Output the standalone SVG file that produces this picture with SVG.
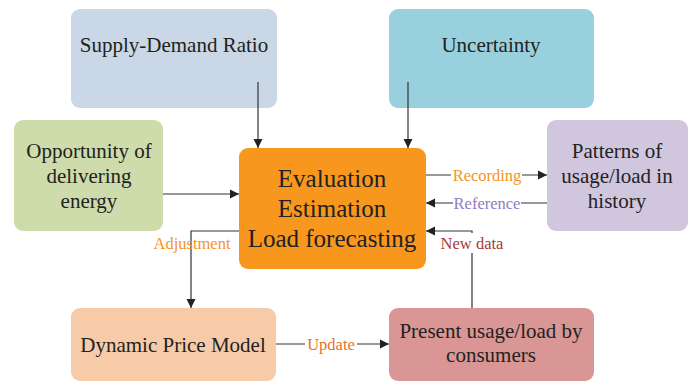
<svg xmlns="http://www.w3.org/2000/svg" width="691" height="386" viewBox="0 0 691 386">
<defs>
<marker id="ah" markerWidth="10" markerHeight="10" refX="9" refY="5" orient="auto" markerUnits="userSpaceOnUse">
<path d="M0,0.5 L9,5 L0,9.5 Z" fill="#222"/>
</marker>
<style>
.t{font-family:"Liberation Serif","Times New Roman",serif;fill:#222;text-anchor:middle;font-size:21px}
.c{font-size:25px}
.l{font-family:"Liberation Serif","Times New Roman",serif;text-anchor:middle;font-size:16.5px}
.ln{fill:none;stroke:#333;stroke-width:1.2}
</style>
</defs>
<rect width="691" height="386" fill="#fff"/>
<g id="supply"><rect x="71" y="9" width="206" height="99" rx="9" fill="#c9d7e6"/><text class="t" x="174" y="52">Supply-Demand Ratio</text></g>
<g id="uncertainty"><rect x="389" y="9" width="205" height="99" rx="9" fill="#99d0de"/><text class="t" x="491" y="52">Uncertainty</text></g>
<g id="opportunity"><rect x="14" y="120" width="149" height="111" rx="9" fill="#cddcaa"/><text class="t" x="89" y="158">Opportunity of</text><text class="t" x="89" y="183">delivering</text><text class="t" x="89" y="208">energy</text></g>
<g id="patterns"><rect x="547" y="120" width="141" height="111" rx="9" fill="#d0c6de"/><text class="t" x="617" y="158">Patterns of</text><text class="t" x="617" y="183">usage/load in</text><text class="t" x="617" y="208">history</text></g>
<g id="center"><rect x="239" y="148" width="187" height="121" rx="9" fill="#f7971e"/><text class="t c" x="332" y="187">Evaluation</text><text class="t c" x="332" y="217">Estimation</text><text class="t c" x="332" y="247">Load forecasting</text></g>
<g id="dynamic"><rect x="71" y="308" width="205" height="73" rx="9" fill="#f8cba8"/><text class="t" x="173" y="352">Dynamic Price Model</text></g>
<g id="present"><rect x="389" y="308" width="205" height="73" rx="9" fill="#d99694"/><text class="t" x="491" y="338">Present usage/load by</text><text class="t" x="491" y="362">consumers</text></g>
<g id="connectors">
<path class="ln" d="M258,82 V148" marker-end="url(#ah)"/>
<path class="ln" d="M408,82 V148" marker-end="url(#ah)"/>
<path class="ln" d="M163,194 H239" marker-end="url(#ah)"/>
<path class="ln" d="M426,175 H451 M522,175 H547" marker-end="url(#ah)"/>
<path class="ln" d="M547,203 H521 M453,203 H426" marker-end="url(#ah)"/>
<path class="ln" d="M472,308 V253 M472,233 V231 H426" marker-end="url(#ah)"/>
<path class="ln" d="M239,231 H191 V308" marker-end="url(#ah)"/>
<path class="ln" d="M276,344 H305 M357,344 H389" marker-end="url(#ah)"/>
<text class="l" x="487" y="181" fill="#f7931e">Recording</text>
<text class="l" x="487" y="209" fill="#8e7cc3">Reference</text>
<text class="l" x="472" y="249" fill="#a93a35">New data</text>
<text class="l" x="192" y="249" fill="#f7931e">Adjustment</text>
<text class="l" x="331" y="350" fill="#e8702a">Update</text>
</g>
</svg>
